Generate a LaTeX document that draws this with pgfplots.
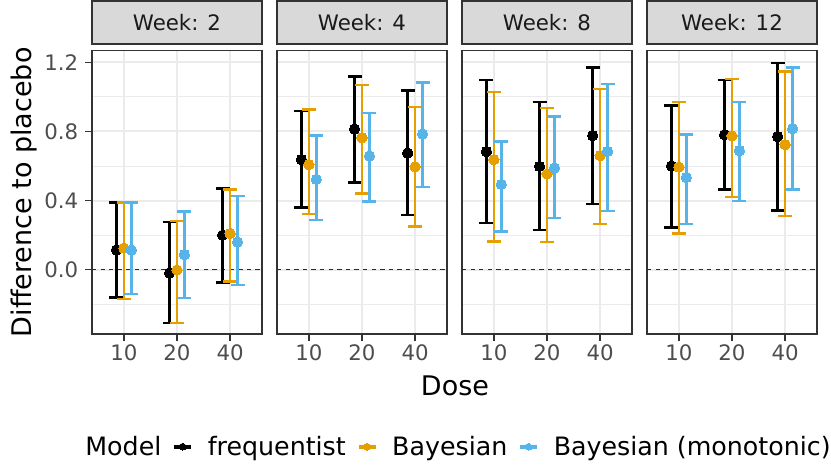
\documentclass[border=0pt]{standalone}
\usepackage{pgfplots}
\pgfplotsset{compat=1.18}
\usepackage{pgfplotstable}
\usepgfplotslibrary{groupplots}
\usepackage{fontspec}
\setmainfont{DejaVu Sans}

\definecolor{freq}{HTML}{000000}
\definecolor{bayes}{HTML}{E69F00}
\definecolor{mono}{HTML}{56B4E9}
\definecolor{grey10}{HTML}{1A1A1A}
\definecolor{grey20}{HTML}{333333}
\definecolor{grey30}{HTML}{4D4D4D}
\definecolor{grey85}{HTML}{D9D9D9}
\definecolor{grey92}{HTML}{EBEBEB}
\definecolor{zeroline}{HTML}{8B0000}

% estimate and 95% interval per dose (1 = 10, 2 = 20, 3 = 40)
% f = frequentist, b = Bayesian, m = Bayesian (monotonic)
\pgfplotstableread{
d  fy     flo     fhi    by     blo     bhi    my     mlo     mhi
1  0.114  -0.160  0.390  0.125  -0.170  0.390  0.114  -0.140  0.390
2  -0.019 -0.307  0.276  -0.002 -0.307  0.282  0.087  -0.164  0.336
3  0.200  -0.073  0.469  0.210  -0.069  0.465  0.160  -0.089  0.426
}\weektwo
\pgfplotstableread{
d  fy     flo     fhi    by     blo     bhi    my     mlo     mhi
1  0.637  0.359   0.920  0.608  0.322   0.926  0.523  0.289   0.776
2  0.814  0.505   1.119  0.764  0.442   1.069  0.658  0.394   0.907
3  0.675  0.316   1.036  0.596  0.251   0.942  0.785  0.478   1.084
}\weekfour
\pgfplotstableread{
d  fy     flo     fhi    by     blo     bhi    my     mlo     mhi
1  0.683  0.270   1.096  0.637  0.164   1.028  0.494  0.222   0.743
2  0.598  0.228   0.972  0.554  0.162   0.934  0.588  0.299   0.886
3  0.776  0.380   1.171  0.660  0.264   1.046  0.685  0.340   1.073
}\weekeight
\pgfplotstableread{
d  fy     flo     fhi    by     blo     bhi    my     mlo     mhi
1  0.600  0.245   0.951  0.594  0.210   0.972  0.534  0.266   0.783
2  0.781  0.465   1.098  0.774  0.421   1.104  0.689  0.397   0.969
3  0.770  0.342   1.196  0.724  0.309   1.148  0.816  0.463   1.171
}\weektwelve

\pgfplotsset{
  ci/.style={only marks, mark=*, mark size=5.2bp, color=#1,
    mark options={fill=#1, draw=#1, line width=0pt},
    error bars/.cd, y dir=both, y explicit,
    error bar style={line width=2.4bp, color=#1},
    error mark options={rotate=90, line width=2.4bp, mark size=7bp, color=#1}},
  keyimg/.style={#1, mark=*, mark size=3.4bp,
    mark options={fill=#1, draw=#1, line width=0pt}},
}

% one model: table, column prefix, colour, dodge offset
\newcommand\series[4]{%
  \addplot[forget plot, ci=#3] table[x expr=\thisrow{d}+#4, y=#2y,
    y error plus expr=\thisrow{#2hi}-\thisrow{#2y},
    y error minus expr=\thisrow{#2y}-\thisrow{#2lo}] {#1};}

\newcommand\panel[1]{%
  \addplot[forget plot, zeroline, line width=1.1bp, dash pattern=on 4.3bp off 4.3bp]
    coordinates {(0.4,0) (3.6,0)};
  \series{#1}{f}{freq}{-0.14}
  \series{#1}{b}{bayes}{0}
  \series{#1}{m}{mono}{0.14}}

\begin{document}
\begin{tikzpicture}
\begin{groupplot}[
  group style={group size=4 by 1, horizontal sep=15bp, yticklabels at=edge left},
  scale only axis, width=170bp, height=283.4bp,
  xmin=0.4, xmax=3.6, ymin=-0.372, ymax=1.268,
  xtick={1,2,3}, xticklabels={10,20,40},
  ytick={0,0.4,0.8,1.2}, yticklabels={0.0,0.4,0.8,1.2},
  minor ytick={-0.2,0.2,0.6,1.0},
  xtick pos=bottom, ytick pos=left,
  grid=both,
  major grid style={grey92, line width=2bp},
  minor grid style={grey92, line width=1bp},
  axis line style={grey20, line width=1.6bp},
  tick style={grey20, line width=1.6bp},
  tick align=outside, major tick length=6.7bp, minor tick length=0pt,
  ticklabel style={font=\fontsize{21.3bp}{25bp}\selectfont, text=grey30},
  yticklabel style={xshift=-3.5bp},
  title style={at={(0.5,1)}, anchor=south, fill=grey85, draw=grey20,
    line width=1.6bp, minimum width=170bp, minimum height=43bp, inner sep=0pt,
    font=\fontsize{21.3bp}{25bp}\selectfont, text=grey10},
]
\nextgroupplot[title={Week: 2},
  ylabel={Difference to placebo},
  ylabel style={at={(axis description cs:-0.353,0.5)}, anchor=base,
    font=\fontsize{27bp}{32bp}\selectfont},
  legend columns=-1,
  % key: short horizontal bar with a dot in the middle
  legend image code/.code={%
    \fill[#1] (0bp,-1.2bp) rectangle (16bp,1.2bp);
    \draw[#1, only marks] plot coordinates {(8bp,0bp)};},
  legend style={at={(axis description cs:-0.14,-0.398)}, anchor=west,
    draw=none, fill=none, inner sep=0pt,
    nodes={inner sep=0pt},
    font=\fontsize{25.3bp}{30bp}\selectfont,
    /tikz/every odd column/.style={column sep=17bp},
    /tikz/every even column/.style={column sep=13bp}},
]
\panel{\weektwo}
\addlegendimage{empty legend}\addlegendentry{Model}
\addlegendimage{keyimg=freq}\addlegendentry{frequentist}
\addlegendimage{keyimg=bayes}\addlegendentry{Bayesian}
\addlegendimage{keyimg=mono}\addlegendentry{Bayesian (monotonic)}
\nextgroupplot[title={Week: 4}, ytick style={draw=none},
  xlabel={Dose},
  xlabel style={at={(axis description cs:1.047,-0.2188)}, anchor=base,
    font=\fontsize{27bp}{32bp}\selectfont}]
\panel{\weekfour}
\nextgroupplot[title={Week: 8}, ytick style={draw=none}]
\panel{\weekeight}
\nextgroupplot[title={Week: 12}, ytick style={draw=none}]
\panel{\weektwelve}
\end{groupplot}
\path[use as bounding box] ([xshift=-92bp,yshift=50bp]group c1r1.north west)
  rectangle ++(831bp,-469bp);
\end{tikzpicture}
\end{document}
